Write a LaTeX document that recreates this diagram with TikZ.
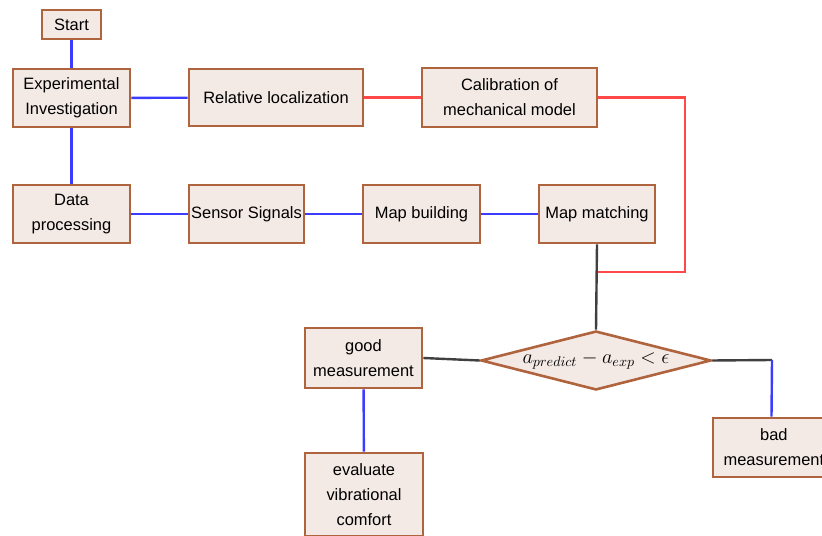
\documentclass[tikz,border=0pt]{standalone}
\usepackage{fontspec}
\setmainfont{Liberation Sans}
\usetikzlibrary{shapes.geometric}

\definecolor{boxfill}{HTML}{F3E9E5}
\definecolor{boxedge}{HTML}{B0643E}
\definecolor{linkblue}{HTML}{3C3CFF}
\definecolor{linkred}{HTML}{FF4848}
\definecolor{linkdark}{HTML}{404040}

\tikzset{
    stagebox/.style={draw=boxedge, fill=boxfill, line width=0.065cm, align=center,
        inner sep=0pt, minimum width=2.925cm, minimum height=1.45cm,
        font=\fontsize{11.7}{17.8}\selectfont},
    checkbox/.style={draw=boxedge, fill=boxfill, line width=0.065cm, diamond,
        inner sep=0pt, minimum width=5.75cm, minimum height=1.475cm, aspect=3.9,
        font=\fontsize{14}{17}\selectfont},
    blueline/.style={draw=linkblue, line width=0.06cm},
    redline/.style={draw=linkred, line width=0.06cm},
    darkline/.style={draw=linkdark, line width=0.06cm}
}

\begin{document}
\begin{tikzpicture}[x=0.025cm, y=-0.025cm]
    \clip (0,0) rectangle (822,536);

    \node[stagebox, minimum width=1.475cm, minimum height=0.725cm] (start) at (71.5,24.5) {Start};
    \node[stagebox] (expinv) at (71.5,98) {Experimental\\Investigation};
    \node[stagebox, minimum width=4.35cm, minimum height=1.425cm] (relloc) at (276,97.5) {Relative localization};
    \node[stagebox, minimum width=4.375cm, minimum height=1.475cm] (calib) at (509.5,97.5) {Calibration of\\mechanical model};

    \node[stagebox] (dataproc) at (71.5,214) {Data\\processing};
    \node[stagebox, minimum width=2.875cm] (sensor) at (246.5,214) {Sensor Signals};
    \node[stagebox] (mapbuild) at (421.5,214) {Map building};
    \node[stagebox, minimum width=2.9cm] (mapmatch) at (597,214) {Map matching};

    \node[checkbox] (check) at (596,360.5) {$a_{predict}-a_{exp}<\epsilon$};
    \node[stagebox, minimum height=1.5cm] (good) at (363.5,358) {good\\measurement};
    \node[stagebox, minimum width=2.95cm, minimum height=2.075cm] (eval) at (364,494.5) {evaluate\\vibrational\\comfort};
    \node[stagebox, minimum height=1.475cm, text width=2.925cm] (bad) at (771.5,447.5) {\hspace*{0.12cm}bad\\\hspace*{0.12cm}measurement};

    \coordinate (redturn) at (685,272);
    \coordinate (badturn) at (772,360);

    % upper row
    \draw[blueline] (start) -- (expinv);
    \draw[blueline] (expinv) -- (relloc);
    \draw[redline] (relloc) -- (calib);
    \draw[redline] (calib.east) -| (redturn) -- (redturn -| mapmatch.south);

    % lower row
    \draw[blueline] (expinv) -- (dataproc);
    \draw[blueline] (dataproc) -- (sensor);
    \draw[blueline] (sensor) -- (mapbuild);
    \draw[blueline] (mapbuild) -- (mapmatch);
    \draw[darkline] (mapmatch.south) -- (check.north);

    % decision
    \draw[darkline] (check.west) -- (good.east);
    \draw[darkline] (check.east) -- (badturn);
    \draw[blueline] (badturn) -- (bad.north);
    \draw[blueline] (good) -- (eval);
\end{tikzpicture}
\end{document}
